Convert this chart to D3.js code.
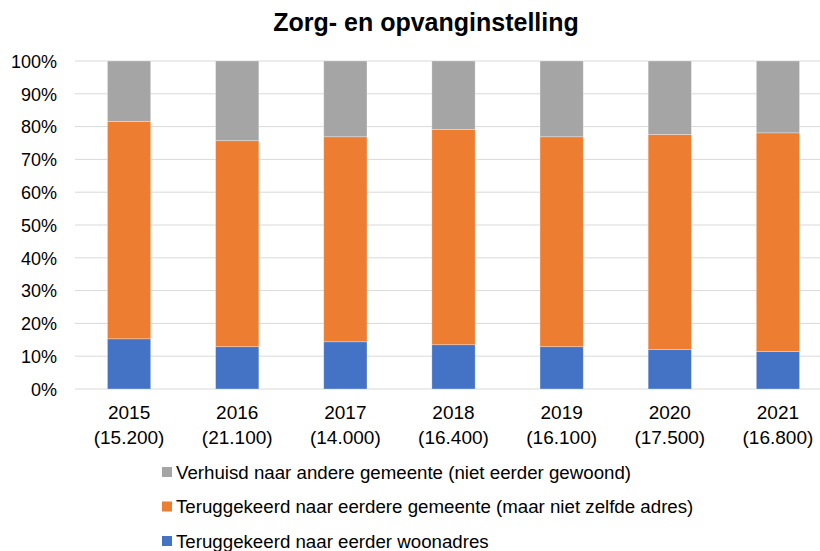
<!DOCTYPE html>
<html><head><meta charset="utf-8">
<script src="https://cdn.jsdelivr.net/npm/d3@7"></script>
<style>body{margin:0;background:#fff}svg{display:block;font-family:"Liberation Sans",Arial,sans-serif}</style>
</head><body><svg id="c" width="820" height="551"></svg>
<script>
const years = ["2015","2016","2017","2018","2019","2020","2021"];
const totals = ["(15.200)","(21.100)","(14.000)","(16.400)","(16.100)","(17.500)","(16.800)"];
const woonadres = [15.3, 12.9, 14.4, 13.5, 12.9, 12.0, 11.4];
const gemeente = [66.3, 62.8, 62.5, 65.6, 64.0, 65.6, 66.7];
const andere = years.map((_, i) => +(100 - woonadres[i] - gemeente[i]).toFixed(1));
const seriesNames = ["Teruggekeerd naar eerder woonadres","Teruggekeerd naar eerdere gemeente (maar niet zelfde adres)","Verhuisd naar andere gemeente (niet eerder gewoond)"];
const colors = ["#4472C4","#ED7D31","#A5A5A5"];
const yTicks = [0,10,20,30,40,50,60,70,80,90,100];

const svg = d3.select("#c");
const x = d3.scaleBand().domain(years).range([75, 832]).paddingInner(0.6).paddingOuter(0.3);
const y = d3.scaleLinear().domain([0,100]).range([389, 61]);

svg.append("text").attr("x",426).attr("y",31).attr("text-anchor","middle")
  .attr("font-size",25).attr("font-weight","bold").attr("fill","#000").text("Zorg- en opvanginstelling");

// gridlines
svg.append("g").selectAll("line").data(yTicks).join("line")
  .attr("x1",75).attr("x2",820).attr("y1",d=>y(d)).attr("y2",d=>y(d))
  .attr("stroke","#d9d9d9").attr("stroke-width",1);

// y axis labels
const yAxis = d3.axisLeft(y).tickValues(yTicks).tickFormat(d=>d+"%").tickSize(0).tickPadding(0);
const gy = svg.append("g").attr("transform","translate(57,0)").call(yAxis);
gy.select(".domain").remove();
gy.selectAll("text").attr("font-size",18).attr("fill","#000").attr("font-family","Liberation Sans, Arial, sans-serif").attr("dy","0.35em");

// stacked data
const rows = years.map((yr,i)=>({year:yr, s0:woonadres[i], s1:gemeente[i], s2:andere[i]}));
const stack = d3.stack().keys(["s0","s1","s2"])(rows);
svg.append("g").selectAll("g").data(stack).join("g").attr("fill",(d,i)=>colors[i])
  .selectAll("rect").data(d=>d).join("rect")
  .attr("x",d=>x(d.data.year)).attr("width",x.bandwidth())
  .attr("y",d=>y(d[1])).attr("height",d=>y(d[0])-y(d[1]))
  .attr("stroke","#ffffff").attr("stroke-opacity",0.4).attr("stroke-width",0.75);

// x labels
const xAxis = d3.axisBottom(x).tickSize(0).tickFormat(()=>"");
const gx = svg.append("g").attr("transform","translate(0,389)").call(xAxis);
gx.select(".domain").remove();
gx.selectAll(".tick").each(function(d,i){
  const t = d3.select(this);
  t.append("text").attr("y",30).attr("text-anchor","middle").attr("font-size",19).attr("fill","#000").text(d);
  t.append("text").attr("y",55).attr("text-anchor","middle").attr("font-size",19).attr("fill","#000").text(totals[i]);
});

// legend
const legendOrder = [2,1,0];
const lg = svg.append("g");
legendOrder.forEach((si,k)=>{
  const cy = 472 + k*34.5;
  lg.append("rect").attr("x",162).attr("y",cy-5).attr("width",10).attr("height",10).attr("fill",colors[si]);
  lg.append("text").attr("x",176).attr("y",cy).attr("dy","0.35em").attr("font-size",18.7).attr("fill","#000").text(seriesNames[si]);
});
</script></body></html>
